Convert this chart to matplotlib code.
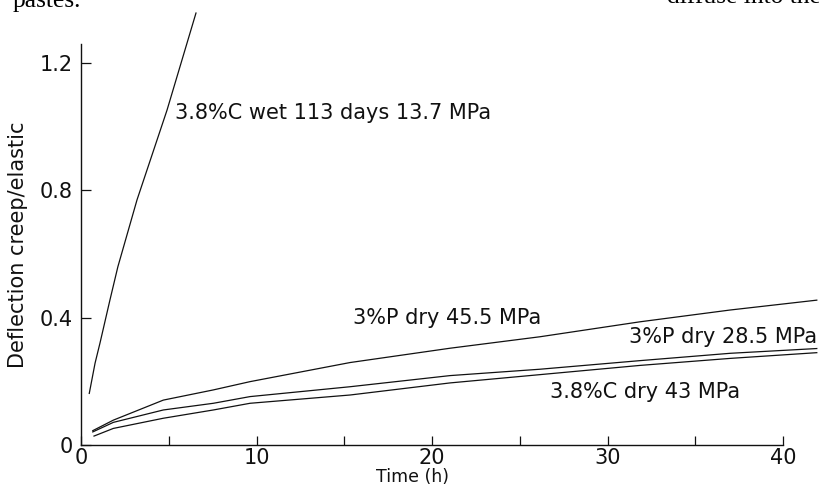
import matplotlib
matplotlib.use("Agg")
import matplotlib.pyplot as plt
from matplotlib.ticker import MultipleLocator

# Creep curves (time in hours, creep/elastic ratio)
t_wet = [0.47, 0.80, 1.08, 1.65, 2.10, 3.19, 4.90, 6.55]
wet_113d = [0.162, 0.257, 0.320, 0.456, 0.560, 0.770, 1.052, 1.357]

t_dry = [0.67, 1.84, 4.69, 7.54, 9.63, 15.33, 21.03, 26.15, 31.85, 36.98, 41.92]
p_dry_455 = [0.045, 0.078, 0.141, 0.173, 0.199, 0.259, 0.304, 0.340, 0.387, 0.424, 0.455]
p_dry_285 = [0.041, 0.071, 0.110, 0.131, 0.152, 0.183, 0.218, 0.238, 0.265, 0.288, 0.303]

t_c_dry = [0.74, 1.84, 4.69, 7.54, 9.63, 15.33, 21.03, 26.15, 31.85, 36.98, 41.92]
c_dry_43 = [0.028, 0.052, 0.084, 0.110, 0.131, 0.157, 0.195, 0.221, 0.250, 0.272, 0.290]

y_ticks = [0, 0.4, 0.8, 1.2]
y_tick_labels = ["0", "0.4", "0.8", "1.2"]
x_ticks = [0, 10, 20, 30, 40]

fig = plt.figure(figsize=(8.2, 4.86), dpi=100)
ax = fig.add_axes([0.0988, 0.0844, 0.899, 0.9104])

line_kw = dict(color="#111111", linewidth=0.9, clip_on=False)
ax.plot(t_wet, wet_113d, **line_kw)
ax.plot(t_dry, p_dry_455, **line_kw)
ax.plot(t_dry, p_dry_285, **line_kw)
ax.plot(t_c_dry, c_dry_43, **line_kw)

# Curve labels
lab_kw = dict(fontsize=15, color="#111111", ha="left", va="center")
ax.text(5.36, 1.043, "3.8%C wet 113 days 13.7 MPa", **lab_kw)
ax.text(15.5, 0.399, "3%P dry 45.5 MPa", **lab_kw)
ax.text(31.2, 0.339, "3%P dry 28.5 MPa", **lab_kw)
ax.text(26.7, 0.166, "3.8%C dry 43 MPa", **lab_kw)

# Axes: only left and bottom, short spines, ticks pointing inward
ax.set_xlim(0, 42)
ax.set_ylim(0, 1.39)
for side in ("top", "right"):
    ax.spines[side].set_visible(False)
ax.spines["bottom"].set_bounds(0, 40)
ax.spines["left"].set_bounds(0, 1.26)
for side in ("bottom", "left"):
    ax.spines[side].set_linewidth(1.0)
    ax.spines[side].set_color("#111111")

ax.set_xticks(x_ticks)
ax.xaxis.set_minor_locator(MultipleLocator(5))
ax.set_yticks(y_ticks)
ax.set_yticklabels(y_tick_labels)
ax.tick_params(axis="x", which="both", direction="in", length=6.5, width=0.9,
               pad=2, labelsize=15, colors="#111111")
ax.tick_params(axis="y", direction="in", length=7, width=0.9, pad=6,
               labelsize=15, colors="#111111")

ax.set_xlabel("Time (h)", fontsize=12.5, color="#111111")
ax.xaxis.set_label_coords(0.449, -0.051)
ax.set_ylabel("Deflection creep/elastic", fontsize=15, color="#111111")
ax.yaxis.set_label_coords(-0.072, 0.452)

# Fragments of the surrounding page text, cut off by the scan
fig.text(13 / 820, 1 - 7 / 486, "pastes.", family="Liberation Serif", fontsize=18.4,
         ha="left", va="baseline")
fig.text(667 / 820, 1 - 3 / 486, "diffuse into the", family="Liberation Serif",
         fontsize=18.4, ha="left", va="baseline")

fig.savefig("out.png", dpi=100, facecolor="white")
